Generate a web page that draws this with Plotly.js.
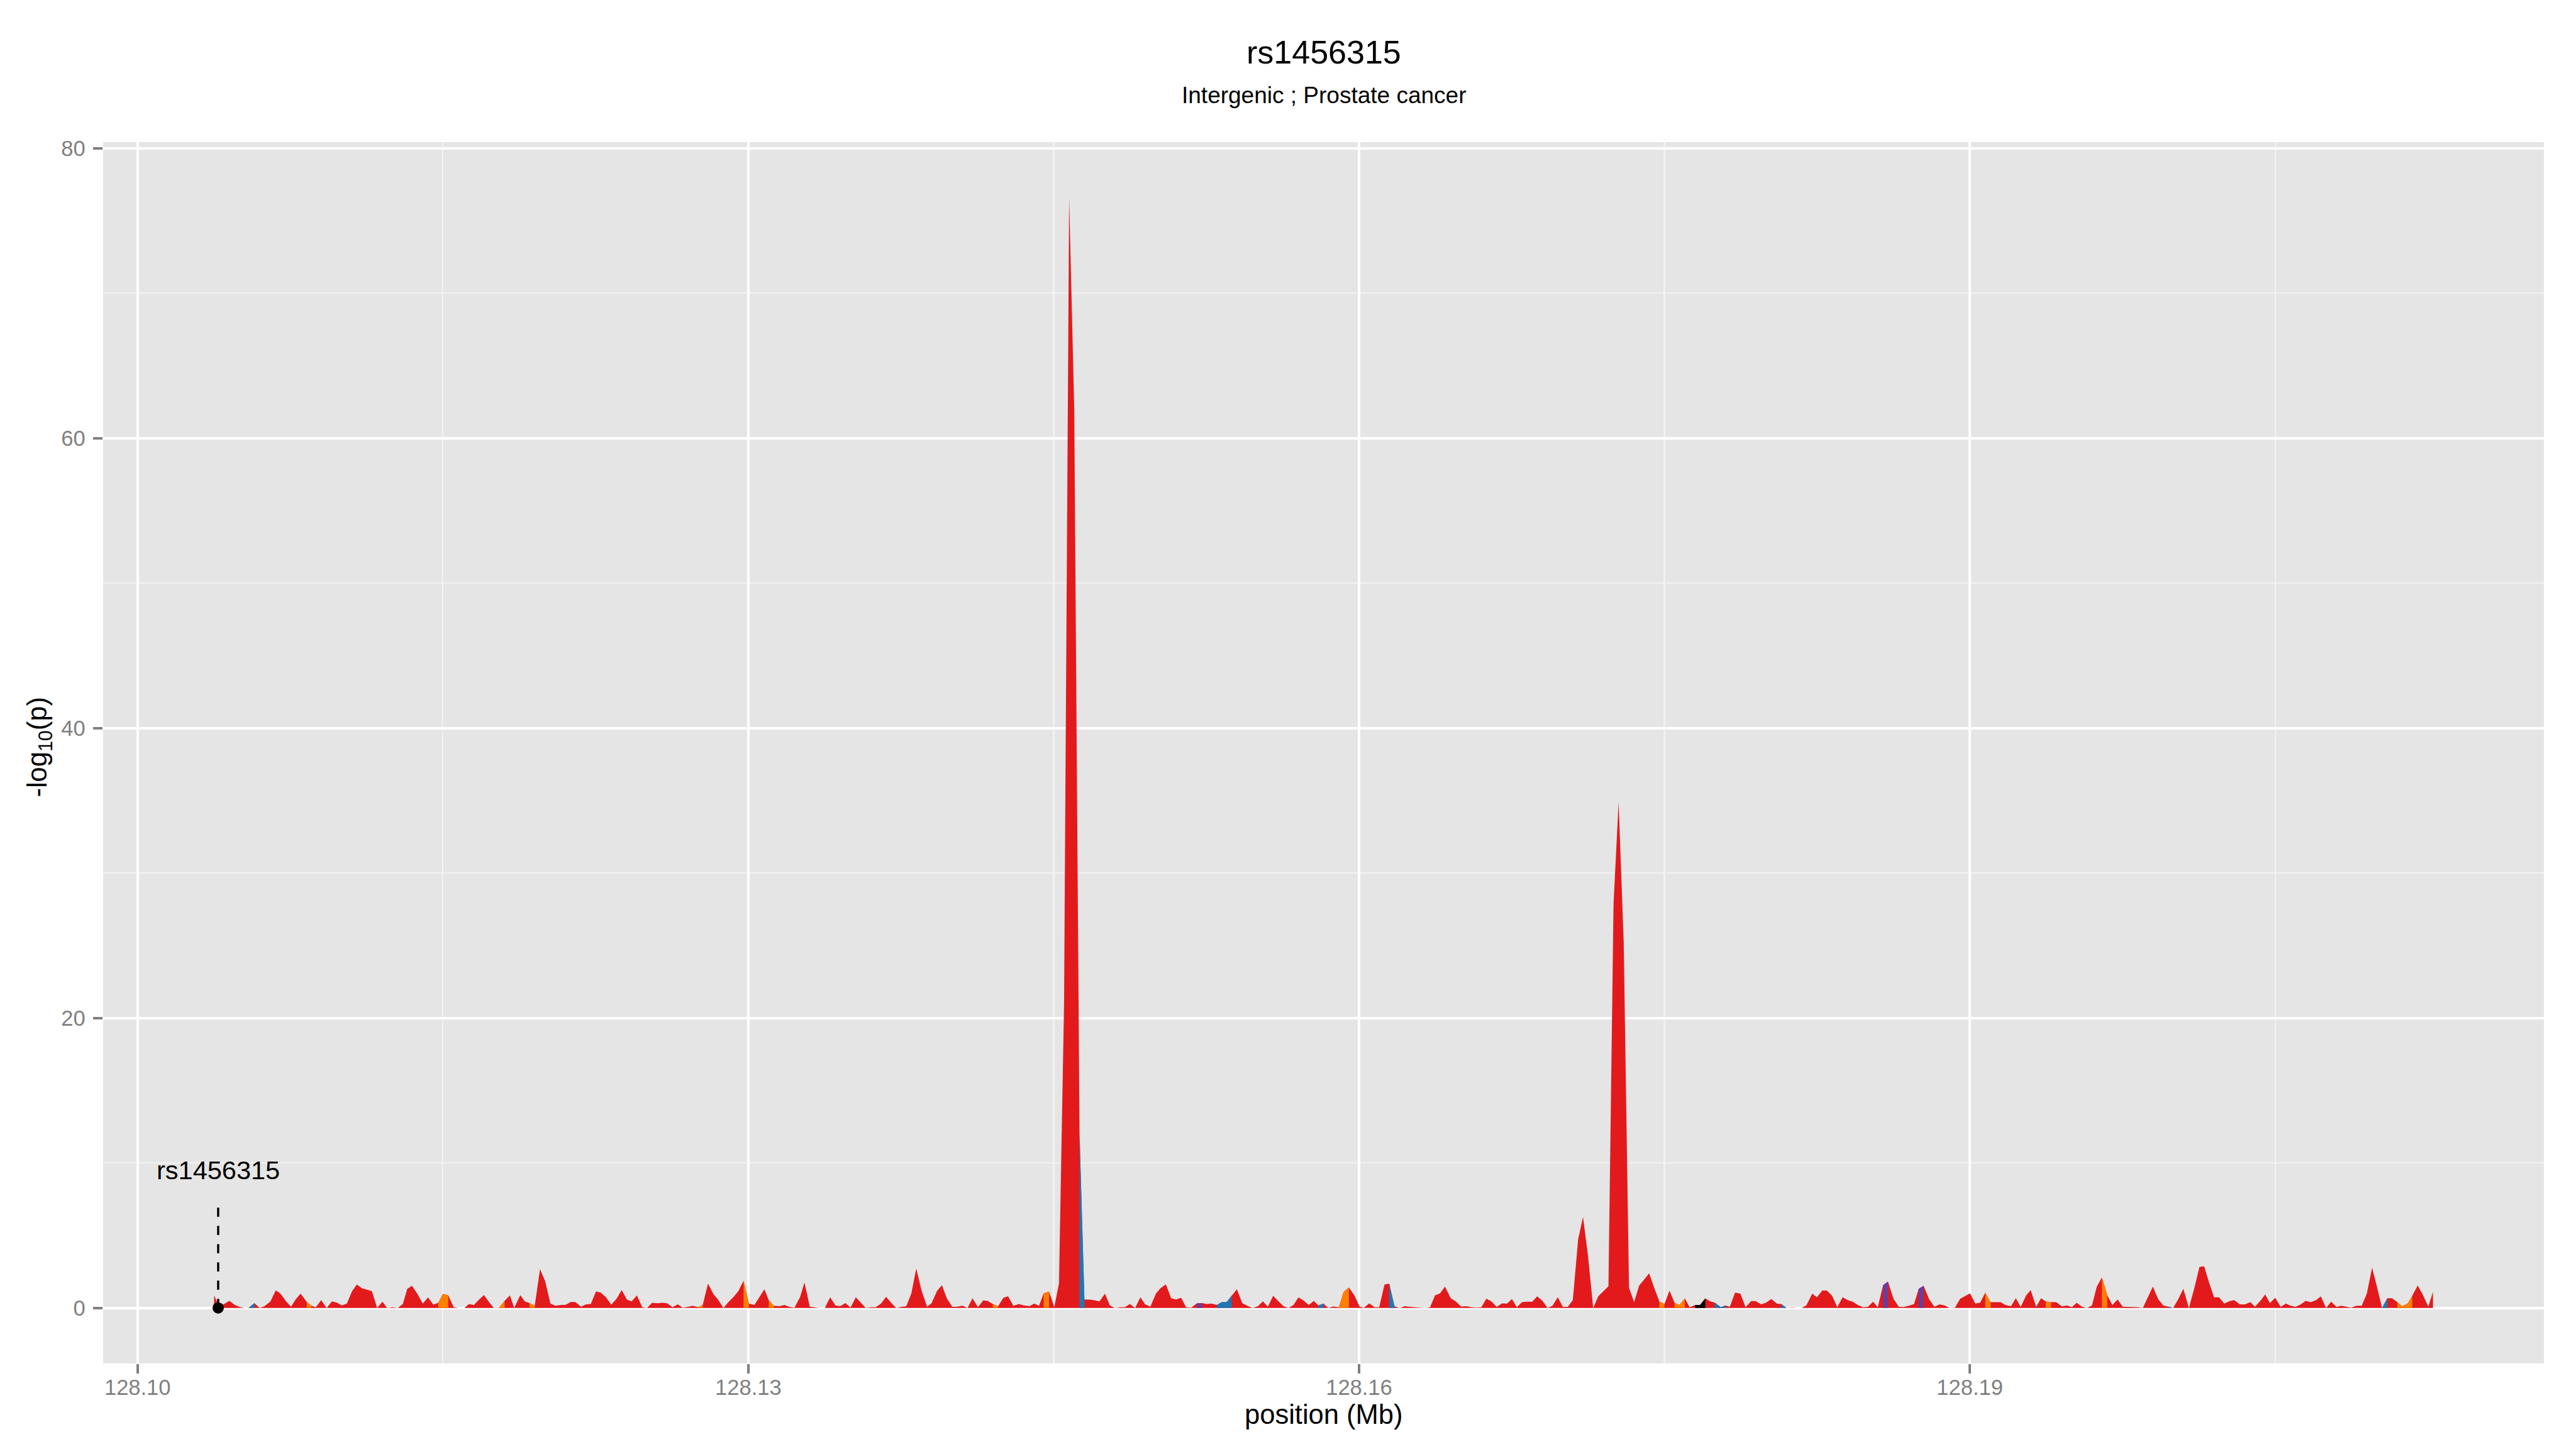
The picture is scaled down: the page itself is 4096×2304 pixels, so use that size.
<!DOCTYPE html>
<html><head><meta charset="utf-8">
<script src="https://cdn.plot.ly/plotly-3.0.1.min.js"></script>
<style>html,body{margin:0;padding:0;background:#fff;} #chart{width:4096px;height:2304px;}</style>
</head><body><div id="chart"></div>
<script>
// ---- data ----
const positionMb = [
128.10376,128.10399,128.10425,128.10451,128.10478,128.10504,128.10530,128.10547,128.10574,128.10600,
128.10623,128.10652,128.10679,128.10701,128.10731,128.10754,128.10778,128.10801,128.10831,128.10853,
128.10876,128.10902,128.10929,128.10955,128.10979,128.11004,128.11028,128.11054,128.11077,128.11103,
128.11128,128.11151,128.11177,128.11203,128.11226,128.11252,128.11278,128.11303,128.11325,128.11348,
128.11374,128.11401,128.11427,128.11453,128.11477,128.11500,128.11526,128.11553,128.11579,128.11605,
128.11628,128.11652,128.11678,128.11701,128.11727,128.11750,128.11776,128.11803,128.11829,128.11850,
128.11880,128.11902,128.11925,128.11951,128.11977,128.12002,128.12028,128.12054,128.12077,128.12103,
128.12129,128.12152,128.12178,128.12203,128.12226,128.12252,128.12275,128.12301,128.12327,128.12353,
128.12378,128.12404,128.12427,128.12453,128.12479,128.12502,128.12528,128.12553,128.12579,128.12601,
128.12628,128.12654,128.12677,128.12703,128.12727,128.12754,128.12776,128.12802,128.12829,128.12851,
128.12878,128.12902,128.12928,128.12951,128.12977,128.13003,128.13030,
128.13079,128.13101,128.13126,128.13152,128.13178,128.13201,128.13227,128.13254,128.13276,128.13302,
128.13327,128.13353,128.13376,128.13402,128.13428,128.13451,128.13477,128.13502,128.13528,128.13552,
128.13577,128.13603,128.13626,128.13652,128.13677,128.13703,128.13727,128.13752,128.13776,128.13801,
128.13825,128.13851,128.13878,128.13900,128.13927,128.13951,128.13975,128.14002,128.14026,128.14052,
128.14077,128.14101,128.14128,128.14154,128.14176,128.14201,128.14227,128.14253,128.14276,128.14302,
128.14329,128.14355,128.14381,128.14404,128.14428,128.14451,128.14477,128.14503,128.14526,128.14551,
128.14576,128.14601,128.14627,128.14651,128.14678,128.14704,128.14725,128.14752,128.14776,128.14801,
128.14827,128.14850,128.14874,128.14900,128.14926,128.14949,128.14975,128.15002,128.15024,128.15051,
128.15077,128.15101,128.15126,128.15150,128.15176,128.15203,128.15229,128.15252,128.15276,128.15302,
128.15325,128.15349,128.15374,128.15400,128.15426,128.15451,128.15477,128.15503,128.15528,128.15552,
128.15578,128.15605,128.15629,128.15654,128.15678,128.15702,128.15727,128.15753,128.15778,128.15800,
128.15825,128.15849,128.15872,128.15901,128.15924,128.15950,128.15977,128.16003,128.16024,128.16050,
128.16076,128.16099,128.16125,128.16148,128.16174,128.16199,128.16225,128.16251,128.16274,128.16300,
128.16326,128.16349,128.16373,128.16398,128.16422,128.16450,128.16475,128.16501,128.16527,128.16552,
128.16576,128.16601,128.16625,128.16650,128.16676,128.16702,128.16727,128.16751,128.16775,128.16800,
128.16824,128.16851,128.16875,128.16901,128.16926,128.16950,128.16976,128.17001,128.17025,128.17050,
128.17076,128.17100,128.17124,128.17150,128.17175,128.17200,128.17225,128.17250,128.17275,128.17300,
128.17326,128.17351,128.17376,128.17400,128.17425,128.17451,128.17475,128.17500,128.17525,128.17550,
128.17574,128.17600,128.17624,128.17651,128.17675,128.17701,128.17725,128.17747,128.17777,128.17800,
128.17821,128.17847,128.17873,128.17899,128.17926,128.17947,128.17975,128.17999,128.18025,128.18052,
128.18074,128.18100,128.18127,128.18153,128.18174,128.18197,128.18226,128.18249,128.18275,128.18298,
128.18324,128.18349,128.18375,128.18401,128.18426,128.18450,128.18475,128.18499,128.18525,128.18548,
128.18574,128.18598,128.18625,128.18651,128.18674,128.18700,128.18726,128.18749,128.18773,128.18801,
128.18826,128.18852,128.18876,128.18901,128.18927,128.18953,128.19001,128.19027,128.19051,128.19076,
128.19102,128.19128,128.19151,128.19175,128.19202,128.19226,128.19250,128.19277,128.19299,128.19326,
128.19350,128.19373,128.19399,128.19425,128.19452,128.19478,128.19501,128.19525,128.19551,128.19576,
128.19600,128.19624,128.19649,128.19675,128.19700,128.19726,128.19751,128.19775,128.19801,128.19826,
128.19850,128.19875,128.19899,128.19925,128.19950,128.19976,128.19999,128.20025,128.20049,128.20076,
128.20102,128.20128,128.20151,128.20175,128.20200,128.20224,128.20250,128.20277,128.20299,128.20326,
128.20352,128.20378,128.20401,128.20427,128.20451,128.20474,128.20500,128.20527,128.20553,128.20576,
128.20600,128.20626,128.20649,128.20675,128.20701,128.20724,128.20750,128.20775,128.20801,128.20824,
128.20850,128.20873,128.20899,128.20925,128.20950,128.20976,128.20999,128.21025,128.21051,128.21074,
128.21100,128.21124,128.21151,128.21173,128.21200,128.21226,128.21252,128.21275
];
const logP = [
0.87,0.15,0.27,0.49,0.21,0.05,0,0.02,0.33,0,
0.12,0.43,1.21,1.01,0.43,0.09,0.62,0.99,0.42,0.15,
0.05,0.54,0,0.46,0.37,0.17,0.30,1.16,1.61,1.35,
1.26,1.16,0,0.43,0,0.05,0,0.27,1.32,1.53,
0.99,0.30,0.73,0.23,0.36,0.98,0.87,0.05,0,0,
0.27,0.21,0.58,0.89,0.40,0,0.02,0.49,0.87,0,
0.89,0.46,0.33,0.15,2.68,1.85,0.30,0.15,0.21,0.22,
0.42,0.40,0.09,0.25,0.27,1.14,1.06,0.74,0.23,0.64,
1.24,0.57,0.46,0.87,0.05,0,0.36,0.32,0.36,0.32,
0.05,0.25,0.02,0.07,0.15,0.05,0.21,1.68,0.95,0.58,
0,0.40,0.77,1.16,1.88,0.30,0.21,
1.29,0.52,0.15,0.12,0.20,0.07,0.02,0.74,1.76,0.09,
0.05,0,0,0.74,0.17,0.12,0.33,0.02,0.74,0.36,
0,0.05,0.05,0.30,0.77,0.33,0,0.07,0.12,1.01,
2.72,1.20,0.09,0.32,1.17,1.57,0.67,0.07,0.09,0.15,
0,0.67,0.05,0.52,0.49,0.27,0.12,0.70,0.80,0.15,
0.27,0.17,0.12,0.30,0.15,1.01,1.14,0.05,1.69,21,
76.6,62,12,0.58,0.57,0.52,0.46,0.99,0.17,0,
0.05,0.05,0.27,0,0.74,0.25,0.09,0.99,1.36,1.63,
0.67,0.58,0.70,0.05,0.02,0.31,0.33,0.27,0.30,0.21,
0.40,0.40,0.85,1.29,0.33,0.15,0,0.12,0.46,0.09,
0.83,0.46,0.12,0,0.21,0.73,0.52,0.21,0.49,0.17,
0.30,0,0.10,0.05,1.11,1.41,0.87,0.09,0.02,0.31,
0.05,0.05,1.61,1.68,0.12,0,0.12,0.07,0.05,0.05,
0,0.05,0.87,1.01,1.47,0.67,0.46,0.10,0.12,0.05,
0.02,0.05,0.64,0.46,0.07,0.31,0.30,0.62,0.05,0.40,
0.43,0.43,0.80,0.49,0,0.15,0.74,0.07,0.07,0.54,
4.72,6.28,3.68,0,0.80,1.15,1.50,27.9,34.9,25.2,
1.40,0.40,1.55,1.95,2.40,1.33,0.45,0.27,1.19,0.35,
0.20,0.66,0.04,0.20,0.20,0.66,0.46,0.37,0.05,0.17,
0.07,1.06,0.99,0.05,0.48,0.48,0.25,0.37,0.62,0.30,
0.27,0,0.02,0,0,0.17,0.99,0.74,1.20,1.20,
0.83,0.05,0.74,0.54,0.42,0.21,0.05,0.07,0.43,0.05,
1.57,1.82,0.64,0.09,0.06,0.15,0.27,1.32,1.53,0.58,
0.09,0.25,0.17,0,0.02,0.64,1.01,0.30,0.37,1.05,
0.40,0.40,0.40,0.21,0.12,0.67,0.07,0.87,1.24,0.07,
0.67,0.46,0.40,0.40,0.11,0.17,0.05,0.36,0.09,0,
0.17,1.48,2.10,0.89,0.21,0.58,0.09,0.07,0.07,0.05,
0,0.74,1.47,0.62,0.17,0.09,0,0.64,1.32,0,
1.32,2.83,2.87,1.76,0.74,0.74,0.30,0.48,0.54,0.25,
0.25,0.40,0.09,0.49,0.93,0.33,0.70,0.07,0.30,0.15,
0.07,0.25,0.49,0.40,0.54,0.80,0,0.43,0.07,0.15,
0.07,0.02,0.15,0.15,0.99,2.78,1.51,0,0.67,0.67,
0.40,0.12,0.31,0.83,1.55,0.89,0.09,1.11
];
// LD group of each SNP (R red, O orange, B blue, P purple, K black)
const ldGroup = [
"R","R","R","R","R","R","R","B","R","R",
"R","R","R","R","R","R","R","R","O","R",
"R","R","R","R","R","R","R","R","R","R",
"R","R","R","R","R","R","R","R","R","R",
"R","R","R","R","O","O","R","R","R","R",
"R","R","R","R","R","R","O","R","R","R",
"R","R","O","R","R","R","R","R","R","R",
"R","R","R","R","R","R","R","R","R","R",
"R","R","R","R","R","R","R","R","R","R",
"R","R","R","R","R","O","R","R","R","R",
"R","R","R","R","O","R","R",
"R","O","R","R","R","R","R","R","R","R",
"R","R","R","R","R","R","R","R","R","R",
"R","R","R","R","R","R","R","R","R","R",
"R","R","R","R","R","R","R","R","R","R",
"R","R","R","R","R","O","R","R","R","R",
"R","R","R","R","R","O","R","R","R","R",
"R","R","B","R","R","R","R","R","R","R",
"R","R","R","R","R","R","R","R","R","R",
"R","R","R","R","R","P","R","R","R","B",
"B","B","R","R","R","R","R","R","R","R",
"R","R","R","R","R","R","R","R","R","B",
"R","R","R","O","O","R","R","R","R","R",
"R","R","R","B","R","R","R","R","R","R",
"R","R","R","R","R","R","R","R","R","R",
"R","R","R","R","R","R","R","R","R","R",
"R","R","R","R","R","R","R","R","R","R",
"R","R","R","R","R","R","R","R","R","R",
"R","R","R","R","R","R","O","R","R","O",
"O","R","R","K","K","R","R","B","B","R",
"R","R","R","R","R","R","R","R","R","R",
"B","R","R","R","R","R","R","R","R","R",
"R","R","R","R","R","R","R","R","R","R",
"P","R","R","R","R","R","R","P","R","R",
"R","R","R","R","R","R","R","R","R","O",
"R","R","R","R","R","R","R","R","R","R",
"R","O","R","R","R","R","R","R","R","R",
"R","R","O","R","R","R","R","R","R","R",
"R","R","R","R","R","B","R","R","R","R",
"R","R","R","R","R","R","R","R","R","R",
"R","R","R","R","R","R","R","R","R","R",
"R","R","R","R","R","R","R","R","R","R",
"R","R","R","R","R","R","R","B","R","R",
"O","O","O","R","R","R","R","R"
];
const snpName = "rs1456315";
const snpPositionMb = 128.10396;
const snpLogP = 0;
const snpLineTop = 7.4;
const snpLabelY = 9.5;
const xTickVals = [128.10, 128.13, 128.16, 128.19];
const xTickText = ["128.10", "128.13", "128.16", "128.19"];
const xMinorVals = [128.115, 128.145, 128.175, 128.205];
const yTickVals = [0, 20, 40, 60, 80];
const yTickText = ["0", "20", "40", "60", "80"];
const yMinorVals = [10, 30, 50, 70];
const chartTitle = "rs1456315";
const chartSubtitle = "Intergenic ; Prostate cancer";
const xTitle = "position (Mb)";
const yTitle = "-log<sub>10</sub>(p)";

// ---- styles ----
const groupColors = {R: "#E31A1C", O: "#FF7F00", B: "#1F78B4", P: "#6A3D9A", K: "#000000"};
const FONT = "Liberation Sans, Arial, Helvetica, sans-serif";

// ---- build traces ----
const traces = [];
traces.push({
  type: "scatter", mode: "lines", x: positionMb, y: logP,
  fill: "tozeroy", fillcolor: groupColors.R, line: {width: 0, color: groupColors.R},
  hoverinfo: "skip", showlegend: false
});
// coloured runs: segment i -> i+1 takes the group of point i
let i = 0;
const n = positionMb.length;
while (i < n - 1) {
  const g = ldGroup[i];
  if (g === "R") { i++; continue; }
  let j = i;
  while (j + 1 < n - 1 && ldGroup[j + 1] === g) j++;
  traces.push({
    type: "scatter", mode: "lines",
    x: positionMb.slice(i, j + 2), y: logP.slice(i, j + 2),
    fill: "tozeroy", fillcolor: groupColors[g], line: {width: 0, color: groupColors[g]},
    hoverinfo: "skip", showlegend: false
  });
  i = j + 1;
}
traces.push({
  type: "scatter", mode: "lines", x: [snpPositionMb, snpPositionMb], y: [snpLogP, snpLineTop],
  line: {color: "#000", width: 3.4, dash: "14.5px,14.5px"}, hoverinfo: "skip", showlegend: false
});
traces.push({
  type: "scatter", mode: "markers", x: [snpPositionMb], y: [snpLogP],
  marker: {color: "#000", size: 18}, hoverinfo: "skip", showlegend: false
});

const axisCommon = {
  showline: false, zeroline: false, ticks: "outside", ticklen: 15.4, tickwidth: 3.8,
  tickcolor: "#7F7F7F", gridcolor: "#FFFFFF", gridwidth: 4.2,
  tickfont: {family: FONT, size: 34.5, color: "#7F7F7F"}, tickmode: "array"
};

const layout = {
  width: 4096, height: 2304,
  paper_bgcolor: "#FFFFFF", plot_bgcolor: "#E5E5E5",
  margin: {l: 164, r: 51, t: 226, b: 136, pad: 0},
  showlegend: false,
  xaxis: Object.assign({}, axisCommon, {
    range: [128.09831, 128.21820], tickvals: xTickVals, ticktext: xTickText,
    ticklabelstandoff: -8,
    minor: {tickvals: xMinorVals, showgrid: true, gridcolor: "#F2F2F2", gridwidth: 2.2, ticks: ""}
  }),
  yaxis: Object.assign({}, axisCommon, {
    range: [-3.83, 80.43], tickvals: yTickVals, ticktext: yTickText,
    ticklabelstandoff: 5,
    minor: {tickvals: yMinorVals, showgrid: true, gridcolor: "#F2F2F2", gridwidth: 2.2, ticks: ""}
  }),
  annotations: [
    {text: chartTitle, xref: "paper", yref: "paper", x: 0.5, y: 1.0735, xanchor: "center", yanchor: "middle",
     showarrow: false, font: {family: FONT, size: 52, color: "#000"}},
    {text: chartSubtitle, xref: "paper", yref: "paper", x: 0.5, y: 1.0382, xanchor: "center", yanchor: "middle",
     showarrow: false, font: {family: FONT, size: 37, color: "#000"}},
    {text: xTitle, xref: "paper", yref: "paper", x: 0.5, y: -0.0415, xanchor: "center", yanchor: "middle",
     showarrow: false, font: {family: FONT, size: 43.5, color: "#000"}},
    {text: yTitle, xref: "paper", yref: "paper", x: -0.0262, y: 0.505, xanchor: "center", yanchor: "middle",
     textangle: -90, showarrow: false, font: {family: FONT, size: 43.5, color: "#000"}},
    {text: snpName, xref: "x", yref: "y", x: snpPositionMb, y: snpLabelY, xanchor: "center", yanchor: "middle",
     showarrow: false, font: {family: FONT, size: 41.5, color: "#000"}}
  ]
};

Plotly.newPlot("chart", traces, layout, {displayModeBar: false, staticPlot: true});
</script>
</body></html>
